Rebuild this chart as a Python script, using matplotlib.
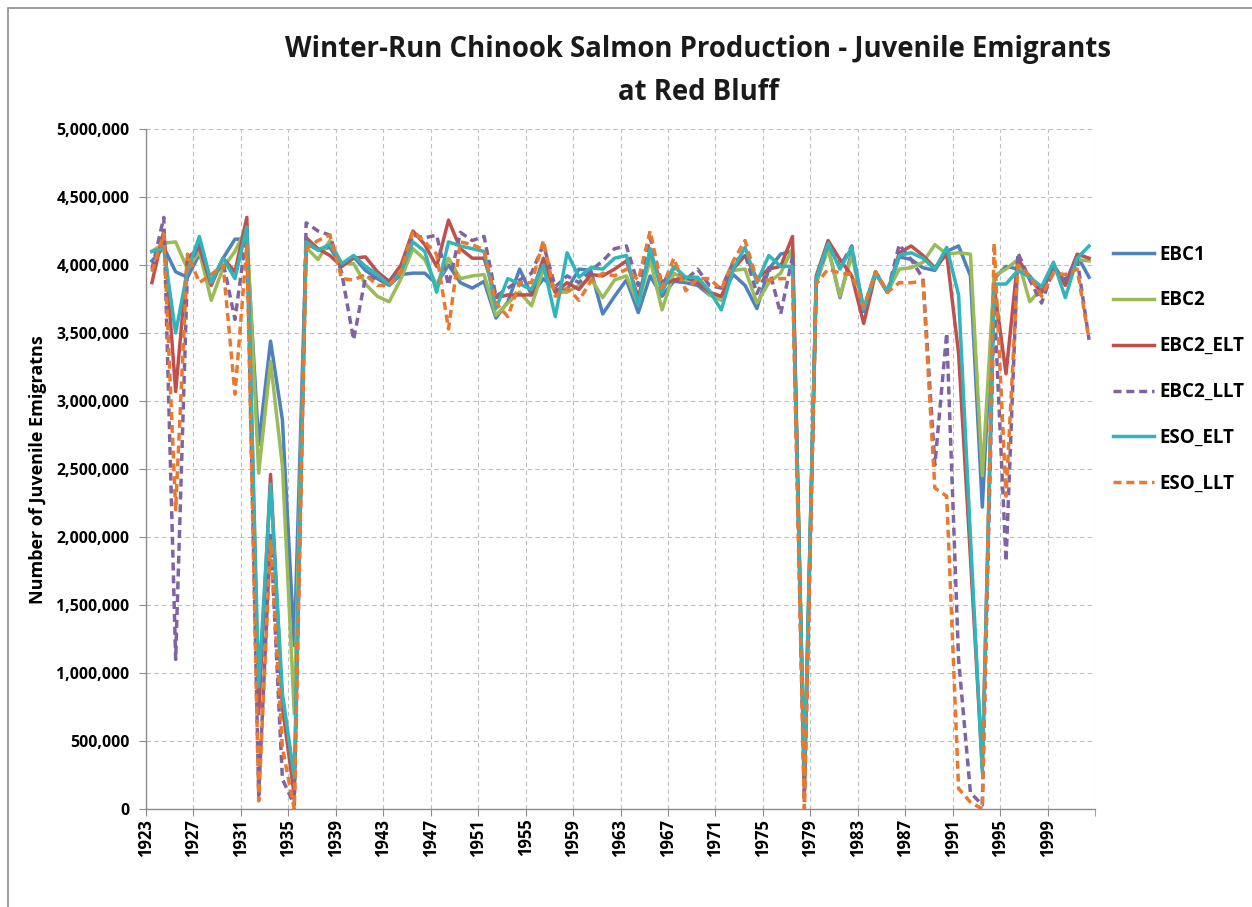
import matplotlib
matplotlib.use("Agg")
import matplotlib.pyplot as plt
from matplotlib import font_manager
from matplotlib.patches import Rectangle
from matplotlib.ticker import FuncFormatter, FixedLocator
import numpy as np

# Water years shown on the category axis
years = list(range(1923, 2003))

# Juvenile emigrants (millions) for each operations scenario
ebc1 = [4.03, 4.13, 3.95, 3.91, 4.08, 3.87, 4.05, 4.19, 4.19, 2.68,
        3.44, 2.86, 1.20, 4.16, 4.11, 4.13, 3.99, 4.06, 3.96, 3.90,
        3.85, 3.93, 3.94, 3.94, 3.86, 4.00, 3.87, 3.83, 3.88, 3.61,
        3.73, 3.97, 3.78, 3.90, 3.82, 3.82, 3.97, 3.96, 3.64, 3.77,
        3.89, 3.65, 3.92, 3.77, 3.88, 3.87, 3.85, 3.78, 3.77, 3.93,
        3.85, 3.68, 3.97, 4.08, 4.10, 0.20, 3.87, 4.13, 3.76, 4.10,
        3.68, 3.95, 3.80, 4.06, 4.04, 3.98, 3.96, 4.10, 4.14, 3.92,
        2.22, 3.90, 3.99, 3.97, 3.92, 3.80, 4.00, 3.87, 4.07, 3.91]
ebc2 = [4.10, 4.16, 4.17, 3.97, 4.10, 3.74, 3.98, 4.10, 4.28, 2.47,
        3.29, 2.52, 0.70, 4.13, 4.04, 4.18, 4.01, 4.01, 3.86, 3.77,
        3.73, 3.90, 4.12, 4.04, 3.85, 4.05, 3.90, 3.92, 3.93, 3.63,
        3.72, 3.80, 3.70, 3.97, 3.80, 3.80, 3.85, 3.90, 3.76, 3.89,
        3.92, 3.71, 4.04, 3.67, 3.94, 3.89, 3.89, 3.78, 3.74, 3.96,
        3.97, 3.72, 3.87, 3.94, 4.12, 0.25, 3.87, 4.12, 3.77, 4.07,
        3.67, 3.95, 3.80, 3.97, 3.98, 4.02, 4.15, 4.08, 4.09, 4.08,
        2.45, 3.92, 3.97, 4.04, 3.73, 3.83, 3.99, 3.86, 4.04, 4.03]
ebc2_elt = [3.87, 4.25, 3.07, 4.05, 4.13, 3.85, 4.05, 3.95, 4.35, 0.70,
            2.46, 0.75, 0.10, 4.20, 4.12, 4.07, 3.99, 4.05, 4.06, 3.95,
            3.88, 4.00, 4.25, 4.15, 3.99, 4.33, 4.12, 4.05, 4.05, 3.76,
            3.78, 3.78, 3.78, 4.05, 3.80, 3.87, 3.82, 3.93, 3.92, 3.97,
            4.03, 3.76, 4.10, 3.85, 3.89, 3.91, 3.87, 3.80, 3.77, 3.97,
            4.07, 3.90, 3.97, 3.99, 4.21, 0.10, 3.92, 4.18, 4.04, 3.92,
            3.57, 3.94, 3.80, 4.09, 4.14, 4.07, 3.98, 4.08, 3.35, 1.85,
            0.30, 3.84, 3.20, 4.05, 3.90, 3.80, 4.00, 3.85, 4.08, 4.05]
ebc2_llt = [3.97, 4.35, 1.10, 3.98, 4.15, 3.88, 4.02, 3.60, 4.25, 0.10,
            2.03, 0.22, 0.03, 4.31, 4.25, 4.22, 3.94, 3.45, 3.91, 3.90,
            3.88, 3.95, 4.22, 4.20, 4.22, 3.85, 4.24, 4.18, 4.21, 3.77,
            3.83, 3.89, 3.94, 4.15, 3.84, 3.92, 3.87, 3.96, 4.03, 4.12,
            4.14, 3.85, 4.20, 3.86, 3.98, 3.89, 3.97, 3.85, 3.83, 4.02,
            4.08, 3.79, 3.98, 3.64, 4.06, 0.05, 3.89, 4.15, 3.99, 4.14,
            3.64, 3.95, 3.80, 4.15, 4.04, 3.90, 2.53, 3.50, 1.10, 0.12,
            0.03, 3.75, 1.82, 4.09, 3.89, 3.72, 3.97, 3.89, 4.04, 3.45]
eso_elt = [4.10, 4.12, 3.50, 3.96, 4.21, 3.87, 4.05, 3.90, 4.28, 0.90,
           2.39, 0.85, 0.23, 4.17, 4.11, 4.15, 4.01, 4.07, 3.99, 3.93,
           3.85, 3.95, 4.17, 4.10, 3.80, 4.17, 4.14, 4.12, 4.10, 3.68,
           3.90, 3.86, 3.82, 4.00, 3.62, 4.09, 3.91, 3.98, 3.97, 4.05,
           4.07, 3.71, 4.12, 3.80, 3.99, 3.91, 3.91, 3.81, 3.67, 3.97,
           4.13, 3.87, 4.07, 3.99, 3.99, 0.25, 3.90, 4.16, 3.97, 4.13,
           3.67, 3.94, 3.80, 4.07, 4.09, 4.05, 3.97, 4.13, 3.78, 2.00,
           0.27, 3.86, 3.86, 3.96, 3.91, 3.84, 4.02, 3.76, 4.05, 4.14]
eso_llt = [3.95, 4.23, 2.20, 4.08, 3.87, 3.93, 4.00, 3.05, 4.15, 0.06,
           1.97, 0.45, 0.00, 4.12, 4.18, 4.22, 3.90, 3.89, 3.93, 3.85,
           3.85, 3.95, 4.25, 4.17, 4.08, 3.53, 4.17, 4.15, 4.11, 3.72,
           3.62, 3.87, 3.87, 4.18, 3.77, 3.83, 3.74, 3.88, 3.94, 3.92,
           3.97, 3.89, 4.25, 3.83, 4.05, 3.81, 3.90, 3.90, 3.82, 4.03,
           4.18, 3.89, 3.89, 3.90, 3.90, 0.00, 3.86, 3.97, 3.94, 3.93,
           3.69, 3.95, 3.80, 3.87, 3.87, 3.88, 2.36, 2.30, 0.15, 0.05,
           0.00, 4.16, 2.30, 4.00, 3.92, 3.77, 3.94, 3.93, 3.97, 3.45]

series_names = ["EBC1", "EBC2", "EBC2_ELT", "EBC2_LLT", "ESO_ELT", "ESO_LLT"]
series_values = [ebc1, ebc2, ebc2_elt, ebc2_llt, eso_elt, eso_llt]
series_colors = ["#4F81BD", "#9BBB59", "#C0504D", "#8064A2", "#2FB5BA", "#E8792E"]
series_dashed = [False, False, False, True, False, True]

y_ticks = list(range(0, 5000001, 500000))
x_labels = list(range(1923, 2000, 4))

title_line1 = "Winter-Run Chinook Salmon Production - Juvenile Emigrants"
title_line2 = "at Red Bluff"
y_title = "Number of Juvenile Emigratns"


def pick_font(candidates):
    names = {f.name for f in font_manager.fontManager.ttflist}
    for c in candidates:
        if c in names:
            return c
    return "DejaVu Sans"


font = pick_font(["Liberation Sans Narrow", "Open Sans", "DejaVu Sans"])
plt.rcParams["font.family"] = [font, "DejaVu Sans"]

W, H = 1252, 907
fig = plt.figure(figsize=(W / 100, H / 100), dpi=100)
fig.patch.set_facecolor("white")

# outer chart frame
fig.add_artist(Rectangle((8 / W, -0.05), 1.1, 1 - 8 / H + 0.05,
                         transform=fig.transFigure, fill=False,
                         edgecolor="#8C8C8C", lw=1.2))

left, right, top, bottom = 146, 1095, 129, 809
ax = fig.add_axes([left / W, 1 - bottom / H, (right - left) / W, (bottom - top) / H])

x = np.array(years, dtype=float)
for name, vals, col, dashed in zip(series_names, series_values, series_colors, series_dashed):
    v = np.array(vals) * 1e6
    if dashed:
        ax.plot(x, v, color=col, lw=2.5, linestyle=(0, (2.3, 1.4)), label=name,
                solid_joinstyle="round")
    else:
        ax.plot(x, v, color=col, lw=2.5, label=name, solid_joinstyle="round")

ax.set_xlim(years[0] - 0.5, years[-1] + 0.5)
ax.set_ylim(0, 5000000)

# gridlines and year labels sit on every fourth category boundary
bounds = [years[0] - 0.5 + 4 * k for k in range(0, 21)]
ax.xaxis.set_major_locator(FixedLocator(bounds[:-1]))
ax.xaxis.set_minor_locator(FixedLocator(bounds[-1:]))
ax.set_xticklabels([str(v) for v in x_labels], rotation=90, fontsize=12,
                   fontweight="bold")
ax.tick_params(axis="x", which="both", length=5, color="#8C8C8C", direction="out", pad=2)

ax.set_yticks(y_ticks)
ax.yaxis.set_major_formatter(FuncFormatter(lambda v, p: f"{int(v):,}"))
for lab in ax.get_yticklabels():
    lab.set_fontweight("bold")
ax.tick_params(axis="y", labelsize=11.4, length=5, color="#8C8C8C", pad=7)

ax.grid(True, which="both", axis="x", color="#BFBFBF", linestyle=(0, (4, 3)), lw=0.8)
ax.grid(True, which="major", axis="y", color="#BFBFBF", linestyle=(0, (4, 3)), lw=0.8)
ax.set_axisbelow(True)

for s in ["top", "right"]:
    ax.spines[s].set_visible(False)
for s in ["left", "bottom"]:
    ax.spines[s].set_color("#8C8C8C")
    ax.spines[s].set_linewidth(1.0)

fig.text(698 / W, 1 - 50 / H, title_line1, ha="center", va="center",
         fontsize=19.8, fontweight="bold", color="#1A1A1A")
fig.text(698 / W, 1 - 92 / H, title_line2, ha="center", va="center",
         fontsize=19.8, fontweight="bold", color="#1A1A1A")
fig.text(38 / W, 1 - 470 / H, y_title, rotation=90, ha="center", va="center",
         fontsize=13, fontweight="bold")

leg = ax.legend(loc="upper left", bbox_to_anchor=(1105 / W, 1 - 237 / H),
                bbox_transform=fig.transFigure, frameon=False,
                prop={"weight": "bold", "size": 13.5}, labelspacing=1.38,
                handlelength=2.2, handletextpad=0.3, borderaxespad=0)

fig.savefig("out.png", dpi=100, facecolor="white")
